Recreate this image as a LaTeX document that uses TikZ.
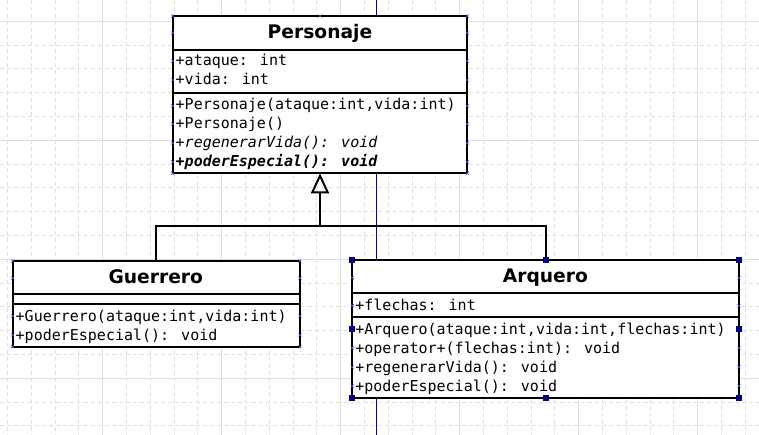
\documentclass[tikz,border=0pt]{standalone}
\usepackage{fontspec}
\setmainfont{DejaVu Sans}
\newfontfamily\monof{DejaVu Sans Mono}
\usetikzlibrary{arrows.meta}
\definecolor{gridc}{RGB}{214,227,224}
\definecolor{selblue}{RGB}{0,0,128}
\definecolor{guideblue}{RGB}{0,0,170}
\definecolor{ptblue}{RGB}{70,70,255}
\begin{document}
\begin{tikzpicture}[x=1pt,y=-1pt,
  classbox/.style={draw=black,line width=2pt,fill=white,inner sep=0pt,outer sep=0pt},
  title/.style={font=\fontsize{18.7}{20}\selectfont\bfseries,anchor=base,inner sep=0pt},
  member/.style={font=\monof\fontsize{15}{18}\selectfont,anchor=base west,inner sep=0pt},
  divider/.style={line width=2pt},
  handle/.style={fill=selblue,draw=none,minimum size=6pt,inner sep=0pt,outer sep=0pt},
  conn/.style={line width=2pt},
  gridminor/.style={draw=gridc,line width=1pt,dash pattern=on 4pt off 3pt},
  gridmajor/.style={draw=gridc,line width=1pt},
  cpt/.style={draw=ptblue,line width=0.6pt},
]
\useasboundingbox (0,0) rectangle (759,435);
\fill[white] (0,0) rectangle (759,435);
% grid
\foreach \k in {0,...,31} {
  \pgfmathsetmacro{\gx}{7.5+23.8*\k}
  \draw[gridminor] (\gx,0) -- (\gx,435);
}
\foreach \k in {0,...,17} {
  \pgfmathsetmacro{\gy}{21.3+23.8*\k}
  \draw[gridminor] (0,\gy) -- (759,\gy);
}
\foreach \gx in {102.5,221.5,340.5,459.5,578.5,697.5}
  \draw[gridmajor] (\gx,0) -- (\gx,435);
\foreach \gy in {21.3,140.3,259.3,378.3}
  \draw[gridmajor] (0,\gy) -- (759,\gy);
% guide line
\draw[guideblue,line width=1pt] (376.3,0) -- (376.3,435);

% Personaje
\node[classbox,minimum width=294.6pt,minimum height=157.3pt] (personaje) at (320,94.65) {};
\draw[divider] (personaje.west |- 0,50) -- (personaje.east |- 0,50);
\draw[divider] (personaje.west |- 0,92.7) -- (personaje.east |- 0,92.7);
\node[title] (tper) at (320,38.3) {Personaje};
\node[member] (p1) at (175.5,65.7) {+ataque: int};
\node[member] (p2) at (175.5,85) {+vida: int};
\node[member] (p3) at (175.5,109.3) {+Personaje(ataque:int,vida:int)};
\node[member] (p4) at (175.5,128.3) {+Personaje()};
\node[member] (p5) at (175.5,147.3) {\itshape +regenerarVida(): void};
\node[member] (p6) at (175.5,166.3) {\bfseries\itshape +poderEspecial(): void};

% Guerrero
\node[classbox,minimum width=287.3pt,minimum height=85.7pt] (guerrero) at (156.35,303.85) {};
\draw[divider] (guerrero.west |- 0,294.3) -- (guerrero.east |- 0,294.3);
\draw[divider] (guerrero.west |- 0,304) -- (guerrero.east |- 0,304);
\node[title] (tgue) at (155.8,283.3) {Guerrero};
\node[member] (g1) at (15.5,321) {+Guerrero(ataque:int,vida:int)};
\node[member] (g2) at (15.5,340) {+poderEspecial(): void};

% Arquero
\node[classbox,minimum width=386.7pt,minimum height=137.7pt] (arquero) at (545.65,328.85) {};
\draw[divider] (arquero.west |- 0,293.3) -- (arquero.east |- 0,293.3);
\draw[divider] (arquero.west |- 0,316.7) -- (arquero.east |- 0,316.7);
\node[title] (tarq) at (545.4,282.7) {Arquero};
\node[member] (a1) at (355.2,310) {+flechas: int};
\node[member] (a2) at (355.2,334) {+Arquero(ataque:int,vida:int,flechas:int)};
\node[member] (a3) at (355.2,353) {+operator+(flechas:int): void};
\node[member] (a4) at (355.2,372) {+regenerarVida(): void};
\node[member] (a5) at (355.2,391) {+poderEspecial(): void};

% connection point marks
\foreach \px/\py in {172.7/16,467.3/16,320/16,
  172.7/33,467.3/33,172.7/61,467.3/61,172.7/80,467.3/80,172.7/106,467.3/106,
  172.7/124,467.3/124,172.7/143,467.3/143,172.7/162,467.3/162,172.7/173.3,467.3/173.3,
  12.7/261,300/261,12.7/278,300/278,12.7/316,300/316,12.7/335,300/335,12.7/346.7,300/346.7,
  352.3/277.7,739/277.7,352.3/305.7,739/305.7,352.3/348,739/348,352.3/367,739/367,352.3/386,739/386}
  \draw[cpt] (\px-1.5,\py-1.5) -- (\px+1.5,\py+1.5) (\px-1.5,\py+1.5) -- (\px+1.5,\py-1.5);

% generalization
\coordinate (j) at (320,226.3);
\draw[conn] (guerrero.north) -- (guerrero.north |- j) -- (arquero.north |- j) -- (arquero.north);
\draw[conn,-{Triangle[open,length=20pt,width=18pt]}] (j) -- (personaje.south);

% selection handles
\foreach \a [count=\i] in {north west,north,north east,west,east,south west,south,south east}
  \node[handle] (h\i) at (arquero.\a) {};
\end{tikzpicture}
\end{document}
